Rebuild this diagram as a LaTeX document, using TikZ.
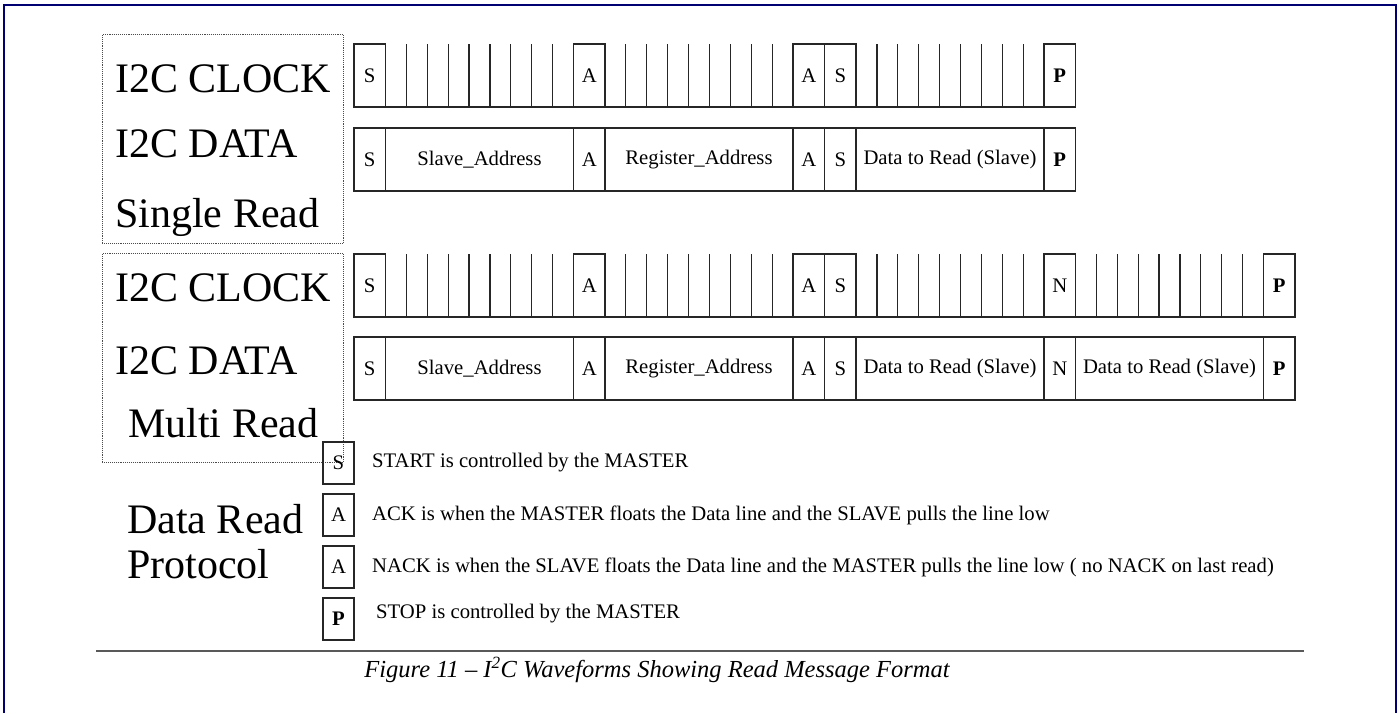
\documentclass[tikz,border=0pt]{standalone}
\usepackage{fontspec}
\setmainfont{Liberation Serif}
\usetikzlibrary{
    positioning,
    calc
}

\newcommand\lblfont{\fontsize{42}{46}\selectfont}
\newcommand\cellfont{\fontsize{20.7}{23}\selectfont}
\newcommand\capfont{\fontsize{24.5}{27}\selectfont\itshape}

\begin{document}
\begin{tikzpicture}[
    x=1pt, y=-1pt,
    bit/.style={
        draw=black!85, line width=1.2pt, minimum width=31.5pt,
        minimum height=63pt, inner sep=0pt, outer sep=0pt, font=\cellfont
    },
    field/.style={bit, minimum width=188pt},
    key/.style={
        draw=black!85, line width=1.2pt, minimum width=31pt,
        minimum height=42pt, inner sep=0pt, outer sep=0pt, font=\cellfont
    },
    note/.style={inner sep=0pt, font=\cellfont},
    title/.style={inner sep=0pt, font=\lblfont, anchor=base west},
    group/.style={
        draw=black!70, densely dotted, line width=0.9pt, minimum width=241pt,
        minimum height=209pt, inner sep=0pt, anchor=north west
    },
    tick/.style={draw=black!85, line width=1.2pt},
    frame/.style={draw=blue!45!black, line width=2pt},
    rule/.style={draw=black!65, line width=2.2pt}
]
\useasboundingbox (0,0) rectangle (1399,713);

% ============================== SINGLE READ ==============================
% SINGLE READ: Clock line
\node[bit, anchor=north west] (sr_clk_s) at (354,44) {S};
\node[bit, right=188pt of sr_clk_s] (sr_clk_a) {A};
\node[bit, right=188pt of sr_clk_a] (sr_clk_a2) {A};
\node[bit, right=0pt of sr_clk_a2] (sr_clk_s2) {S};
\node[bit, right=188pt of sr_clk_s2] (sr_clk_p) {\textbf{P}};

\foreach \a/\b in {sr_clk_s/sr_clk_a, sr_clk_a/sr_clk_a2, sr_clk_s2/sr_clk_p}
    \foreach \k in {1,...,8}
        \draw[tick] ($(\a.north east)!\k/9!(\b.north west)$) -- ($(\a.south east)!\k/9!(\b.south west)$);
\draw[tick] (sr_clk_s.south east) -- (sr_clk_p.south west);

% SINGLE READ: Data line
\node[bit, below=21pt of sr_clk_s] (sr_dat_s) {S};
\node[field, right=0pt of sr_dat_s] (sr_dat_addr) {Slave\_Address};
\node[bit, right=0pt of sr_dat_addr] (sr_dat_a) {A};
\node[field, right=0pt of sr_dat_a] (sr_dat_reg) {Register\_Address};
\node[bit, right=0pt of sr_dat_reg] (sr_dat_a2) {A};
\node[bit, right=0pt of sr_dat_a2] (sr_dat_s2) {S};
\node[field, right=0pt of sr_dat_s2] (sr_dat_read) {Data to Read (Slave)};
\node[bit, right=0pt of sr_dat_read] (sr_dat_p) {\textbf{P}};

% ============================== MULTI READ ==============================
% MULTI READ: Clock line
\node[bit, below=63pt of sr_dat_s] (mr_clk_s) {S};
\node[bit, right=188pt of mr_clk_s] (mr_clk_a) {A};
\node[bit, right=188pt of mr_clk_a] (mr_clk_a2) {A};
\node[bit, right=0pt of mr_clk_a2] (mr_clk_s2) {S};
\node[bit, right=188pt of mr_clk_s2] (mr_clk_n) {N};
\node[bit, right=188pt of mr_clk_n] (mr_clk_p) {\textbf{P}};

\foreach \a/\b in {mr_clk_s/mr_clk_a, mr_clk_a/mr_clk_a2, mr_clk_s2/mr_clk_n, mr_clk_n/mr_clk_p}
    \foreach \k in {1,...,8}
        \draw[tick] ($(\a.north east)!\k/9!(\b.north west)$) -- ($(\a.south east)!\k/9!(\b.south west)$);
\draw[tick] (mr_clk_s.south east) -- (mr_clk_p.south west);

% MULTI READ: Data line
\node[bit, below=20pt of mr_clk_s] (mr_dat_s) {S};
\node[field, right=0pt of mr_dat_s] (mr_dat_addr) {Slave\_Address};
\node[bit, right=0pt of mr_dat_addr] (mr_dat_a) {A};
\node[field, right=0pt of mr_dat_a] (mr_dat_reg) {Register\_Address};
\node[bit, right=0pt of mr_dat_reg] (mr_dat_a2) {A};
\node[bit, right=0pt of mr_dat_a2] (mr_dat_s2) {S};
\node[field, right=0pt of mr_dat_s2] (mr_dat_read) {Data to Read (Slave)};
\node[bit, right=0pt of mr_dat_read] (mr_dat_n) {N};
\node[field, right=0pt of mr_dat_n] (mr_dat_read2) {Data to Read (Slave)};
\node[bit, right=0pt of mr_dat_read2] (mr_dat_p) {\textbf{P}};

% ============================== LABELS ==============================
\node[group] (sr_group) at (102,34) {};
\node[group] (mr_group) at (102,253) {};

\node[title] (sr_clk_lbl) at (115,92) {I2C CLOCK};
\node[title] (sr_dat_lbl) at (115,157) {I2C DATA};
\node[title] (sr_lbl) at (115,227) {Single Read};
\node[title] (mr_clk_lbl) at (115,301) {I2C CLOCK};
\node[title] (mr_dat_lbl) at (115,374) {I2C DATA};
\node[title] (mr_lbl) at (128,437) {Multi Read};

% ============================== PROTOCOL KEY ==============================
\node[key, anchor=north west] (key_s) at (323,442) {S};
\node[key, below=10pt of key_s] (key_a) {A};
\node[key, below=10pt of key_a] (key_n) {A};
\node[key, below=10pt of key_n] (key_p) {\textbf{P}};

\node[note, right=18pt of key_s] (txt_start) {START is controlled by the MASTER};
\node[note, right=18pt of key_a] (txt_ack) {ACK is when the MASTER floats the Data line and the SLAVE pulls the line low};
\node[note, right=18pt of key_n] (txt_nack) {NACK is when the SLAVE floats the Data line and the MASTER pulls the line low ( no NACK on last read)};
\node[note, right=22pt of key_p, yshift=5pt] (txt_stop) {STOP is controlled by the MASTER};

\node[title] (proto_lbl) at (127,533) {Data Read};
\node[title] (proto_lbl2) at (127,578) {Protocol};

% ============================== CAPTION ==============================
\draw[rule] (96,651) -- (1304,651);
\node[font=\capfont] (caption) at (657,670) {Figure 11 – I\textsuperscript{2}C Waveforms Showing Read Message Format};

\draw[frame] (3.5,713) -- (3.5,5) -- (1395.5,5) -- (1395.5,713);

\end{tikzpicture}
\end{document}
